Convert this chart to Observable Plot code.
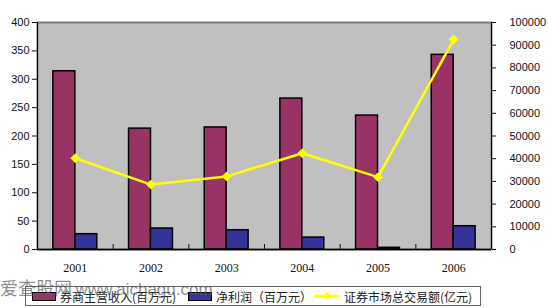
<!DOCTYPE html>
<html><head><meta charset="utf-8">
<script src="https://cdn.jsdelivr.net/npm/d3@7"></script>
<script src="https://cdn.jsdelivr.net/npm/@observablehq/plot@0.6"></script>
<style>
body{margin:0;background:#fff;width:548px;height:308px;overflow:hidden;position:relative;font-family:"Liberation Sans",Arial,sans-serif}
#legend{position:absolute;left:25px;top:286px;width:454px;height:18px;border:1px solid #666;background:#fff;font-family:"Noto Sans CJK SC",sans-serif;font-size:12px;color:#222;display:flex;align-items:center}
.item{display:flex;align-items:center;position:absolute;top:0;height:18px}
.sw{width:22px;height:7px;border:1px solid #000;margin-right:4px}
#wm{position:absolute;left:0;top:278px;font-family:"Noto Sans CJK SC",sans-serif;color:rgba(90,90,90,0.7);white-space:nowrap;z-index:5;pointer-events:none;line-height:18px}
</style></head>
<body>
<div id="chart"></div>
<div id="legend"></div>
<div id="wm"><span style="font-size:18px">爱查股网</span> <span style="font-size:17px;font-family:'Liberation Sans',sans-serif">www.aichagu.com</span></div>
<script>
const years = [2001, 2002, 2003, 2004, 2005, 2006];
const revenue = [314, 213, 215, 266, 236, 343];
const profit = [27, 37, 34, 21, 3, 41];
const volume = [40200, 28600, 32200, 42400, 31900, 92500];
const leftTicks = [0, 50, 100, 150, 200, 250, 300, 350, 400];
const rightTicks = [0, 10000, 20000, 30000, 40000, 50000, 60000, 70000, 80000, 90000, 100000];
const seriesNames = ["券商主营收入(百万元)", "净利润（百万元）", "证券市场总交易额(亿元)"];
const colors = ["#993366", "#333399", "#ffff00"];

const ratio = 100000 / 400;
const data = years.map((y, i) => ({year: y, rev: revenue[i], prof: profit[i], vol: volume[i] / ratio}));
const bounds = [years[0] - 0.5, ...years.map(y => y + 0.5)];
const bw = 0.29;

const chart = Plot.plot({
  width: 548, height: 285,
  marginTop: 22, marginBottom: 36, marginLeft: 37, marginRight: 57,
  x: {domain: [years[0] - 0.5, years[years.length - 1] + 0.5], axis: null},
  y: {domain: [0, 400], axis: null},
  style: {background: "transparent", fontFamily: "Liberation Sans, Arial, sans-serif", fontSize: "11px", color: "#111"},
  marks: [
    Plot.frame({fill: "#c0c0c0", stroke: "#7a7a7a", strokeWidth: 2}),
    Plot.rectY(data, {x1: d => d.year - bw, x2: d => d.year, y: "rev", fill: colors[0], stroke: "#000", strokeWidth: 1.5}),
    Plot.rectY(data, {x1: d => d.year, x2: d => d.year + bw, y: "prof", fill: colors[1], stroke: "#000", strokeWidth: 1.5}),
    Plot.line(data, {x: "year", y: "vol", stroke: colors[2], strokeWidth: 2.5}),
    Plot.dot(data, {x: "year", y: "vol", symbol: "diamond2", fill: colors[2], stroke: colors[2], r: 3.5}),
    Plot.ruleY([0], {stroke: "#000", strokeWidth: 1.5}),
    Plot.ruleX([bounds[0]], {stroke: "#000", strokeWidth: 1}),
    Plot.ruleX([bounds[bounds.length - 1]], {stroke: "#000", strokeWidth: 1}),
    Plot.axisY({anchor: "left", ticks: leftTicks, tickSize: 5, tickPadding: 3, fontSize: 11, label: null}),
    Plot.axisY({anchor: "right", ticks: rightTicks.map(v => v / ratio), tickFormat: d => String(Math.round(d * ratio)), tickSize: 4, tickPadding: 14, fontSize: 11, label: null}),
    Plot.axisX({ticks: years, tickSize: 0, tickPadding: 14, tickFormat: d => String(d), fontFamily: "Liberation Serif, serif", fontSize: 12, label: null}),
    Plot.axisX({ticks: bounds.slice(1, -1), tickSize: -5, tickFormat: () => "", label: null})
  ]
});
document.getElementById("chart").appendChild(chart);

const leg = document.getElementById("legend");
const lefts = [6, 162, 288];
seriesNames.forEach((n, i) => {
  const it = document.createElement("div");
  it.className = "item";
  it.style.left = lefts[i] + "px";
  if (i < 2) {
    it.innerHTML = `<span class="sw" style="background:${colors[i]}"></span><span>${n}</span>`;
  } else {
    it.innerHTML = `<svg width="26" height="10" style="margin-right:4px"><line x1="0" y1="5" x2="26" y2="5" stroke="${colors[i]}" stroke-width="2.5"/><path d="M13 1 L17 5 L13 9 L9 5Z" fill="${colors[i]}"/></svg><span>${n}</span>`;
  }
  leg.appendChild(it);
});
</script>
</body></html>
